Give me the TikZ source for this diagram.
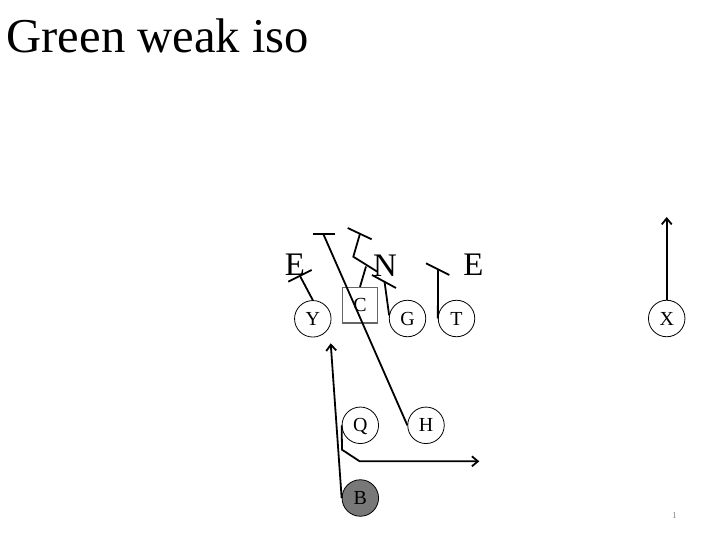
\documentclass[tikz,border=0pt]{standalone}
\usepackage{fontspec}
\setmainfont{Liberation Serif}
\usetikzlibrary{arrows.meta}
\begin{document}
\begin{tikzpicture}[x=1bp,y=-1bp,
  player/.style={circle,draw,line width=0.8pt,minimum size=36.5bp,inner sep=0pt,text height=13.2bp,text depth=0pt,font=\fontsize{20}{20}\selectfont},
  centerbox/.style={rectangle,draw=black!60,line width=1.3pt,minimum size=35.5bp,inner sep=0pt,font=\fontsize{20}{20}\selectfont},
  defender/.style={font=\fontsize{33}{33}\selectfont,inner sep=0pt,anchor=base},
  block/.style={line width=1.8pt},
  route/.style={line width=1.8pt},
  arr/.style={-{Straight Barb[length=6bp,width=10bp]}}]
\useasboundingbox (0,0) rectangle (720,540);
\node[anchor=base west,font=\fontsize{48.8}{48.8}\selectfont,inner sep=0pt] (title) at (6.5,52.7) {Green weak iso};
% defenders
\node[defender] (E1) at (295,276) {E};
\node[defender] (N) at (385,277) {N};
\node[defender] (E2) at (473.3,276) {E};
% offense
\node[player] (Y) at (312.8,318.8) {Y};
\node[centerbox] (C) at (360,305.3) {\raisebox{-3.5bp}{C}};
\node[player] (G) at (407.5,318.5) {G};
\node[player] (T) at (456.5,318.5) {T};
\node[player] (X) at (666.7,318.5) {X};
\node[player] (Q) at (360.3,425.3) {Q};
\node[player] (H) at (426,425.3) {H};
\node[player,fill=black!53] (B) at (360.3,498) {B};
% block points
\coordinate (ybk) at (300,276);
\coordinate (ybl) at (288.3,281.7);
\coordinate (ybr) at (311.7,270);
\coordinate (hbk) at (323.3,234);
\coordinate (hbl) at (313.3,234);
\coordinate (hbr) at (335,234);
\coordinate (cbk) at (366,266.5);
\coordinate (cz1) at (353.3,256.7);
\coordinate (cz2) at (377,271.5);
\coordinate (cz3) at (360,233.7);
\coordinate (cbl) at (347.7,228);
\coordinate (cbr) at (371.7,239.3);
\coordinate (gbk) at (384.5,281.5);
\coordinate (gbl) at (372,275);
\coordinate (gbr) at (396,288);
\coordinate (tbk) at (438,269.2);
\coordinate (tbl) at (426,263.3);
\coordinate (tbr) at (449.3,275);
\coordinate (xend) at (666.7,217);
\coordinate (bend) at (330.7,343.3);
\coordinate (q1) at (342,449.7);
\coordinate (q2) at (359.7,461.3);
\coordinate (qend) at (479.3,461.3);
% blocks
\draw[block] (Y.north) -- (ybk);
\draw[block] (ybl) -- (ybr);
\draw[block] (H.west) -- (hbk);
\draw[block] (hbl) -- (hbr);
\draw[block] (C.north) -- (cbk);
\draw[block] (cz2) -- (cz1) -- (cz3);
\draw[block] (cbl) -- (cbr);
\draw[block] (G.170) -- (gbk);
\draw[block] (gbl) -- (gbr);
\draw[block] (T.west) -- (tbk);
\draw[block] (tbl) -- (tbr);
% routes
\draw[route,arr] (X.north) -- (xend);
\draw[route,arr] (B.west) -- (bend);
\draw[route,arr] (Q.west) -- (q1) -- (q2) -- (qend);
% slide number
\node[font=\fontsize{9}{9}\selectfont,text=black!50,inner sep=0pt] (pg) at (674.5,516) {1};
\end{tikzpicture}
\end{document}
